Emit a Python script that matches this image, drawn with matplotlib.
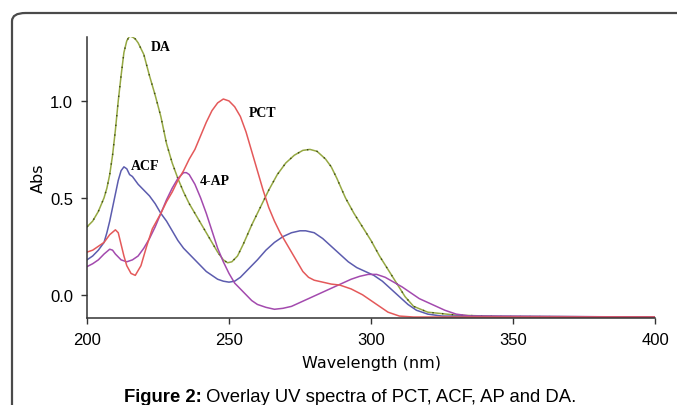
import matplotlib.pyplot as plt
from matplotlib.patches import FancyBboxPatch

# wavelength (nm) / absorbance
da_wl = [200, 202, 204, 206, 207, 208, 209, 210, 211, 212, 213, 214, 215, 216, 217, 218,
         220, 222, 224, 226, 228, 230, 232, 234, 236, 238, 240, 242, 244, 246, 248, 249.5,
         251, 253, 255, 258, 261, 264, 267, 270, 273, 276, 278.5, 281, 284, 286, 288, 291,
         294, 297, 300, 303, 306, 309, 312, 315, 320, 330, 345, 400]
da_abs = [0.35, 0.38, 0.43, 0.50, 0.55, 0.62, 0.72, 0.85, 1.00, 1.13, 1.25, 1.31, 1.335, 1.33, 1.32, 1.30,
          1.24, 1.13, 1.03, 0.92, 0.78, 0.68, 0.60, 0.53, 0.47, 0.42, 0.37, 0.32, 0.27, 0.22, 0.18, 0.165,
          0.17, 0.20, 0.26, 0.36, 0.45, 0.54, 0.62, 0.68, 0.72, 0.745, 0.75, 0.74, 0.70, 0.66, 0.60, 0.50,
          0.42, 0.35, 0.28, 0.20, 0.13, 0.06, -0.01, -0.06, -0.09, -0.105, -0.112, -0.115]

pct_wl = [200, 202, 204, 206, 208, 210, 211, 212, 213, 214, 215.5, 217, 219, 221, 223, 226,
          228, 230, 232, 234, 236, 238, 240, 242, 244, 246, 248, 250, 252, 254, 256, 258,
          260, 262, 264, 266, 268, 270, 272, 274, 276, 278, 280, 283, 286, 289, 293, 297,
          300, 303, 306, 310, 315, 400]
pct_abs = [0.22, 0.23, 0.25, 0.27, 0.31, 0.335, 0.32, 0.26, 0.20, 0.15, 0.11, 0.10, 0.15, 0.25, 0.34, 0.42,
           0.48, 0.53, 0.59, 0.64, 0.70, 0.75, 0.82, 0.89, 0.95, 0.99, 1.01, 1.00, 0.97, 0.92, 0.84, 0.74,
           0.64, 0.54, 0.45, 0.38, 0.32, 0.27, 0.22, 0.17, 0.12, 0.09, 0.075, 0.065, 0.055, 0.05, 0.03, 0.0,
           -0.03, -0.06, -0.09, -0.11, -0.115, -0.115]

acf_wl = [200, 202, 204, 206, 207, 208, 209, 210, 211, 212, 213, 214, 215, 216, 218, 220,
          222, 224, 226, 228, 230, 232, 234, 236, 238, 240, 242, 244, 246, 248, 250, 252,
          254, 256, 258, 260, 263, 266, 269, 272, 275, 277, 280, 283, 286, 289, 292, 295,
          298, 301, 304, 307, 310, 313, 316, 320, 325, 400]
acf_abs = [0.18, 0.20, 0.23, 0.27, 0.32, 0.38, 0.45, 0.52, 0.59, 0.64, 0.66, 0.65, 0.62, 0.61, 0.57, 0.54,
           0.51, 0.47, 0.42, 0.38, 0.33, 0.28, 0.24, 0.21, 0.18, 0.15, 0.12, 0.10, 0.08, 0.07, 0.065, 0.07,
           0.09, 0.12, 0.15, 0.18, 0.23, 0.27, 0.30, 0.32, 0.33, 0.33, 0.32, 0.29, 0.25, 0.21, 0.17, 0.14,
           0.12, 0.10, 0.07, 0.03, -0.01, -0.05, -0.08, -0.10, -0.11, -0.115]

ap_wl = [200, 202, 204, 206, 208, 209, 210, 212, 214, 216, 218, 220, 222, 224, 226, 228,
         230, 232, 234, 235, 236, 238, 240, 242, 244, 246, 248, 250, 252, 254, 256, 258,
         260, 263, 266, 269, 272, 275, 278, 281, 284, 287, 290, 293, 296, 299, 302, 305,
         308, 311, 314, 317, 320, 323, 326, 330, 335, 400]
ap_abs = [0.145, 0.16, 0.18, 0.21, 0.235, 0.23, 0.21, 0.18, 0.17, 0.18, 0.20, 0.24, 0.29, 0.35, 0.42, 0.49,
          0.55, 0.60, 0.63, 0.63, 0.62, 0.57, 0.50, 0.42, 0.33, 0.24, 0.17, 0.11, 0.06, 0.03, 0.0, -0.03,
          -0.05, -0.065, -0.075, -0.07, -0.06, -0.04, -0.02, 0.0, 0.02, 0.04, 0.06, 0.08, 0.095, 0.105, 0.105, 0.09,
          0.065, 0.04, 0.01, -0.02, -0.04, -0.06, -0.08, -0.10, -0.11, -0.115]

labels = ['DA', 'PCT', 'ACF', '4-AP']
label_pos = [(226, 1.28), (262, 0.94), (220.5, 0.665), (245, 0.59)]

fig = plt.figure(figsize=(6.77, 4.06), dpi=100)

# rounded frame around the figure panel (runs off the right/bottom edge)
frame = FancyBboxPatch((12 / 677, -0.2), 1.2, (406 - 14) / 406 + 0.2,
                       boxstyle='round,pad=0,rounding_size=0.02',
                       transform=fig.transFigure, fill=False,
                       edgecolor='#4a4a4a', linewidth=1.6)
fig.patches.append(frame)

ax = fig.add_axes([87 / 677, 87 / 406, (655 - 87) / 677, (319 - 38) / 406])

ax.plot(da_wl, da_abs, color='#95a843', lw=1.1)
ax.plot(da_wl, da_abs, color='#3d4a12', lw=1.0, ls=(0, (1, 6)))
ax.plot(acf_wl, acf_abs, color='#5c5cae', lw=1.1)
ax.plot(ap_wl, ap_abs, color='#a34aae', lw=1.1)
ax.plot(pct_wl, pct_abs, color='#e4595a', lw=1.1)

for lab, (x, y) in zip(labels, label_pos):
    ax.text(x, y, lab, fontsize=10, fontweight='bold', family='Liberation Serif',
            ha='center', va='center')

ax.set_xlim(200, 400)
ax.set_ylim(-0.12, 1.33)
ax.set_xticks([200, 250, 300, 350, 400])
ax.set_yticks([0.0, 0.5, 1.0])
ax.set_yticklabels(['0.0', '0.5', '1.0'])
ax.spines['top'].set_visible(False)
ax.spines['right'].set_visible(False)
for s in ('left', 'bottom'):
    ax.spines[s].set_color('#333333')
    ax.spines[s].set_linewidth(1.1)
ax.tick_params(length=4, width=1, color='#333333', labelsize=12, pad=6)
for t in ax.get_xticklabels() + ax.get_yticklabels():
    t.set_family('Liberation Sans')

ax.set_xlabel('Wavelength (nm)', fontsize=11.5, family='DejaVu Sans', labelpad=6)
ax.set_ylabel('Abs', fontsize=11.5, family='DejaVu Sans', labelpad=3)

# caption: bold "Figure 2:" followed by normal text, centred as a whole
cap_bold = 'Figure 2:'
cap_rest = ' Overlay UV spectra of PCT, ACF, AP and DA.'
cy = 1 - 402 / 406
tb = fig.text(0, cy, cap_bold, fontsize=13.3, fontweight='bold', family='Liberation Sans', va='baseline')
tr = fig.text(0, cy, cap_rest, fontsize=13.3, family='Liberation Sans', va='baseline')
fig.canvas.draw()
r = fig.canvas.get_renderer()
wb = tb.get_window_extent(r).width / 677
wr = tr.get_window_extent(r).width / 677
x0 = 350 / 677 - (wb + wr) / 2
tb.set_x(x0)
tr.set_x(x0 + wb)

fig.savefig('out.png', dpi=100)
